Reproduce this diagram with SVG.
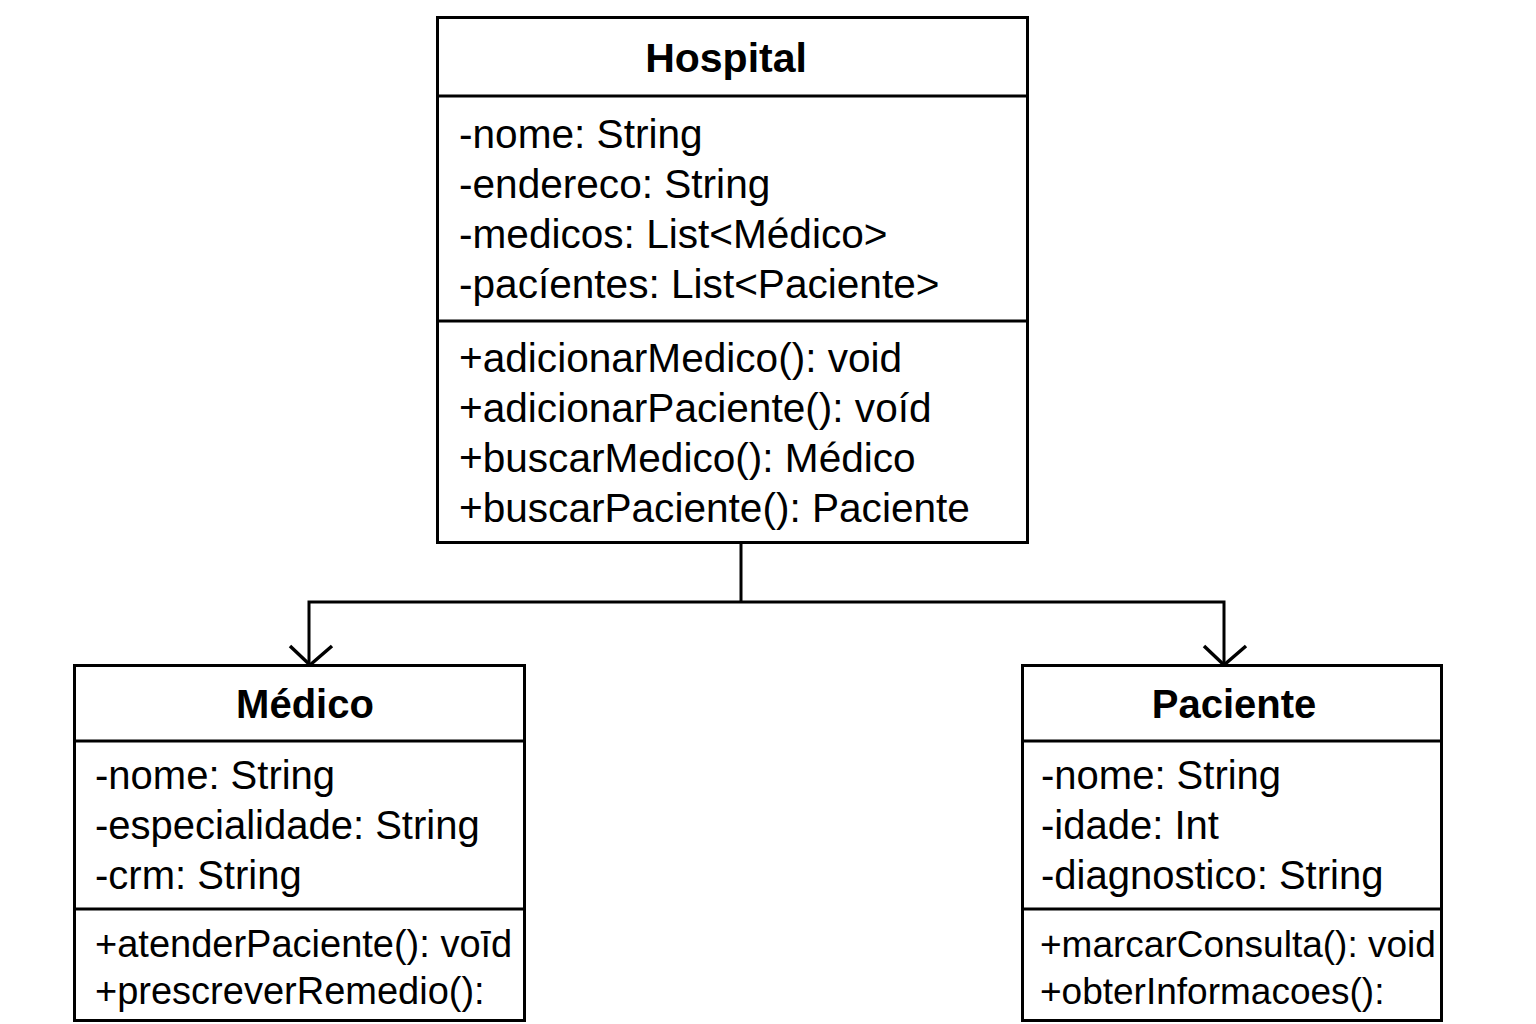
<svg xmlns="http://www.w3.org/2000/svg" width="1536" height="1024" viewBox="0 0 1536 1024">
<style>
.box{fill:#fff;stroke:#000;stroke-width:3}
.div{stroke:#000;stroke-width:3}
.t{font-family:"Liberation Sans",Arial,sans-serif;font-size:40px;fill:#000}
.ht{font-family:"Liberation Sans",Arial,sans-serif;font-size:40.6px;fill:#000}
.m{font-family:"Liberation Sans",Arial,sans-serif;font-size:38px;fill:#000}
.h{font-family:"Liberation Sans",Arial,sans-serif;font-size:40px;font-weight:bold;fill:#000;text-anchor:middle}
.c{fill:none;stroke:#000;stroke-width:3}
</style>
<rect width="1536" height="1024" fill="#fff"/>
<g id="connectors">
<path class="c" d="M741,542 V602"/>
<path class="c" d="M741,602 H309 V664"/>
<path class="c" d="M741,602 H1224 V664"/>
<path d="M290,646 L310,665 L332,646" fill="none" stroke="#000" stroke-width="3.5"/>
<path d="M1204,646 L1224,665 L1246,646" fill="none" stroke="#000" stroke-width="3.5"/>
</g>
<g id="hospital">
<rect class="box" x="437.5" y="17.5" width="590" height="525"/>
<line class="div" x1="437" y1="96" x2="1027" y2="96"/>
<line class="div" x1="437" y1="321" x2="1027" y2="321"/>
<text class="h" x="726" y="72" style="font-size:41px">Hospital</text>
<text class="ht" x="459" y="148">-nome: String</text>
<text class="ht" x="459" y="198">-endereco: String</text>
<text class="ht" x="459" y="248">-medicos: List&lt;Médico&gt;</text>
<text class="ht" x="459" y="298">-pacíentes: List&lt;Paciente&gt;</text>
<text class="ht" x="459" y="372">+adicionarMedico(): void</text>
<text class="ht" x="459" y="422">+adicionarPaciente(): voíd</text>
<text class="ht" x="459" y="472">+buscarMedico(): Médico</text>
<text class="ht" x="459" y="522">+buscarPaciente(): Paciente</text>
</g>
<g id="medico">
<rect class="box" x="74.5" y="665.5" width="450" height="355"/>
<line class="div" x1="74" y1="741" x2="524" y2="741"/>
<line class="div" x1="74" y1="909" x2="524" y2="909"/>
<text class="h" x="305" y="718">Médico</text>
<text class="t" x="95" y="789">-nome: String</text>
<text class="t" x="95" y="839">-especialidade: String</text>
<text class="t" x="95" y="889">-crm: String</text>
<text class="m" x="95" y="957">+atenderPaciente(): voīd</text>
<text class="m" x="95" y="1004">+prescreverRemedio():</text>
</g>
<g id="paciente">
<rect class="box" x="1022.5" y="665.5" width="419" height="355"/>
<line class="div" x1="1022" y1="741" x2="1441" y2="741"/>
<line class="div" x1="1022" y1="909" x2="1441" y2="909"/>
<text class="h" x="1234" y="718">Paciente</text>
<text class="t" x="1041" y="789">-nome: String</text>
<text class="t" x="1041" y="839">-idade: Int</text>
<text class="t" x="1041" y="889">-diagnostico: String</text>
<text class="m" x="1040" y="957" style="font-size:37px">+marcarConsulta(): void</text>
<text class="m" x="1040" y="1004" style="font-size:37px">+obterInformacoes():</text>
</g>
</svg>
